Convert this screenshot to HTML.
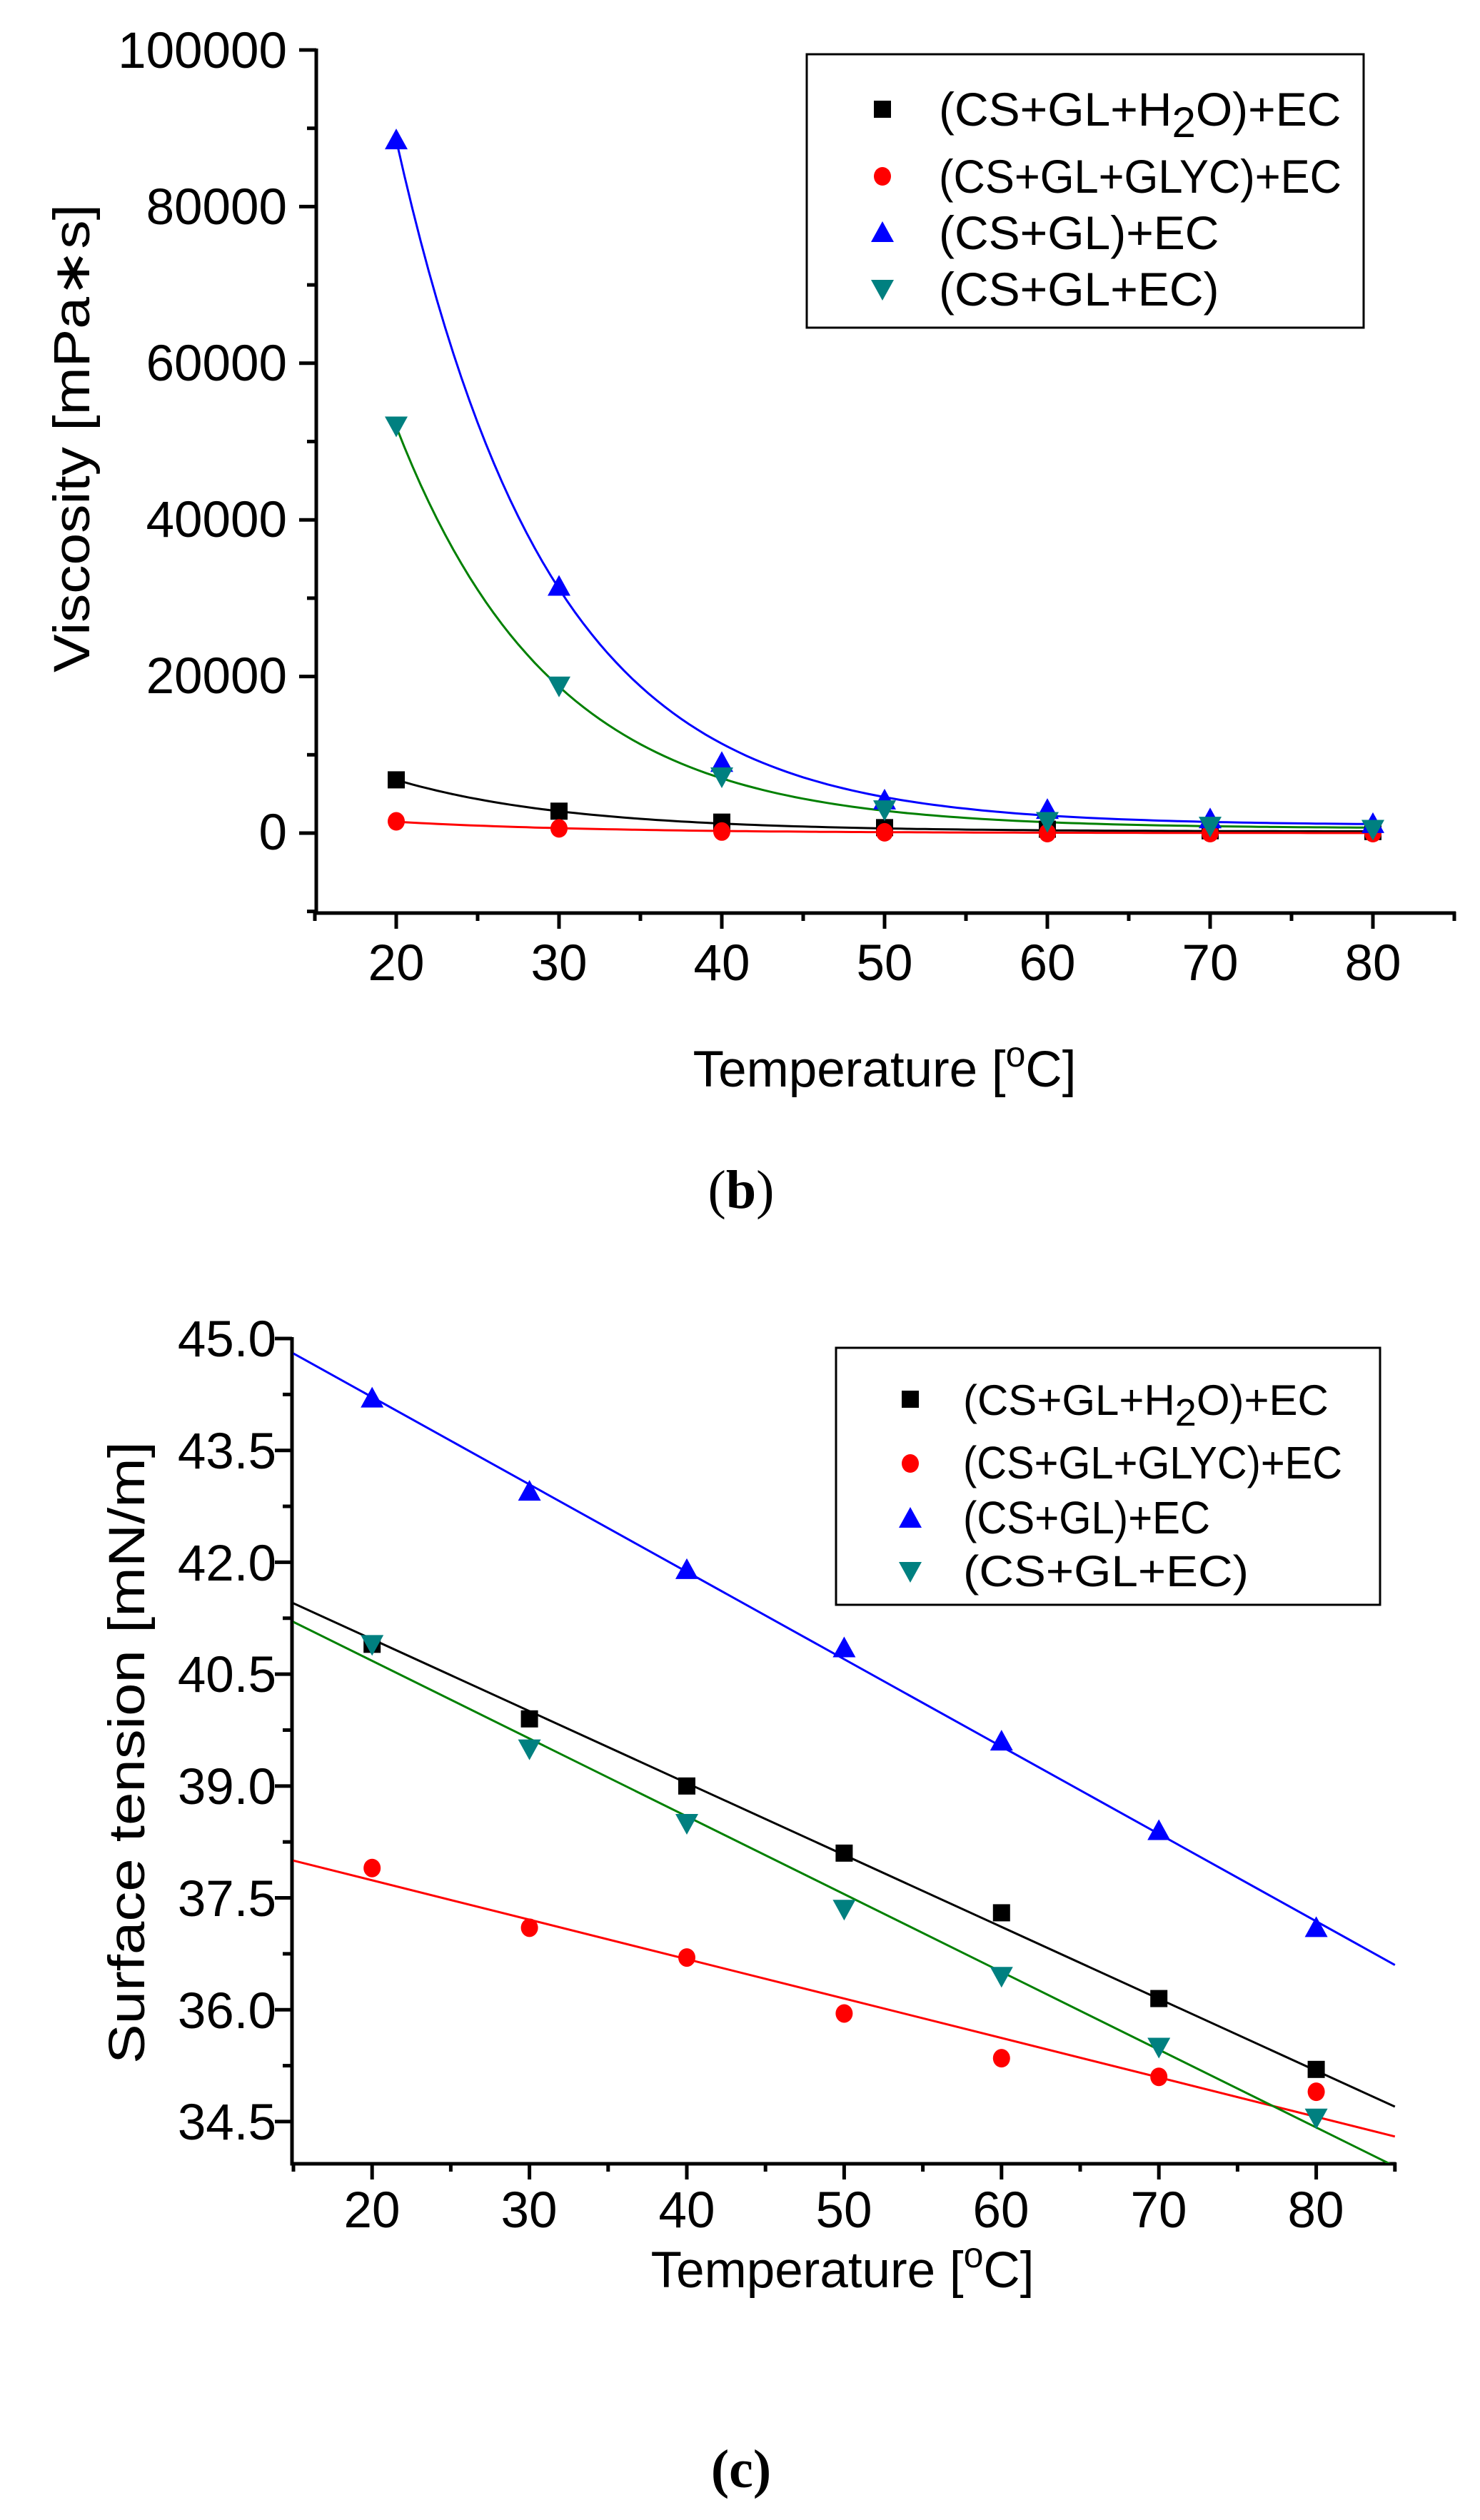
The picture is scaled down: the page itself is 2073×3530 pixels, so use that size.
<!DOCTYPE html>
<html><head><meta charset="utf-8"><style>
html,body{margin:0;padding:0;background:#fff;}
svg{display:block;}
text{font-family:"Liberation Sans",sans-serif;fill:#000;}
.t{font-size:71px;}
.s{font-family:"Liberation Serif",serif;}
</style></head><body>
<svg id="s" width="2073" height="3530" viewBox="0 0 2073 3530" xmlns="http://www.w3.org/2000/svg">
<rect width="2073" height="3530" fill="#fff"/>
<g id="g"></g>
<g class="t" text-anchor="end">
<text x="402" y="95">100000</text>
<text x="402" y="314">80000</text>
<text x="402" y="533">60000</text>
<text x="402" y="752">40000</text>
<text x="402" y="971">20000</text>
<text x="402" y="1190">0</text>
</g>
<g class="t" text-anchor="middle">
<text x="555" y="1373">20</text>
<text x="783" y="1373">30</text>
<text x="1011" y="1373">40</text>
<text x="1239" y="1373">50</text>
<text x="1467" y="1373">60</text>
<text x="1695" y="1373">70</text>
<text x="1923" y="1373">80</text>
</g>
<text class="t" x="1239" y="1522" text-anchor="middle">Temperature [<tspan dy="-28" font-size="50">o</tspan><tspan dy="28">C]</tspan></text>
<text class="t" transform="translate(125,614) rotate(-90)" text-anchor="middle" textLength="656" lengthAdjust="spacingAndGlyphs">Viscosity [mPa∗s]</text>
<text class="s" x="1038" y="1692" text-anchor="middle" font-size="76">(<tspan font-weight="bold">b</tspan>)</text>
<rect x="1130" y="76" width="780" height="383" fill="none" stroke="#000" stroke-width="3"/>
<g font-size="66">
<text x="1315" y="176">(CS+GL+H<tspan dy="16" font-size="60">2</tspan><tspan dy="-16">O)+EC</tspan></text>
<text x="1315" y="270" textLength="564" lengthAdjust="spacingAndGlyphs">(CS+GL+GLYC)+EC</text>
<text x="1315" y="349">(CS+GL)+EC</text>
<text x="1315" y="428">(CS+GL+EC)</text>
</g>
<g class="t" text-anchor="end">
<text x="387" y="1900">45.0</text>
<text x="387" y="2057">43.5</text>
<text x="387" y="2214">42.0</text>
<text x="387" y="2370">40.5</text>
<text x="387" y="2527">39.0</text>
<text x="387" y="2684">37.5</text>
<text x="387" y="2841">36.0</text>
<text x="387" y="2997">34.5</text>
</g>
<g class="t" text-anchor="middle">
<text x="521" y="3120">20</text>
<text x="741" y="3120">30</text>
<text x="962" y="3120">40</text>
<text x="1182" y="3120">50</text>
<text x="1402" y="3120">60</text>
<text x="1623" y="3120">70</text>
<text x="1843" y="3120">80</text>
</g>
<text class="t" x="1180" y="3204" text-anchor="middle">Temperature [<tspan dy="-28" font-size="50">o</tspan><tspan dy="28">C]</tspan></text>
<text class="t" transform="translate(202,2455) rotate(-90)" text-anchor="middle" textLength="872" lengthAdjust="spacingAndGlyphs">Surface tension [mN/m]</text>
<text class="s" x="1038" y="3484" text-anchor="middle" font-size="76" font-weight="bold">(c)</text>
<rect x="1171" y="1888" width="762" height="360" fill="none" stroke="#000" stroke-width="3"/>
<g font-size="64">
<text x="1349" y="1982" font-size="60">(CS+GL+H<tspan dy="15" font-size="54">2</tspan><tspan dy="-15">O)+EC</tspan></text>
<text x="1349" y="2071" textLength="531" lengthAdjust="spacingAndGlyphs">(CS+GL+GLYC)+EC</text>
<text x="1349" y="2148" textLength="346" lengthAdjust="spacingAndGlyphs">(CS+GL)+EC</text>
<text x="1349" y="2222" font-size="61" textLength="400" lengthAdjust="spacingAndGlyphs">(CS+GL+EC)</text>
</g>
</svg>
<script>
var g=document.getElementById('g'),NS='http://www.w3.org/2000/svg';
function el(t,a){var e=document.createElementNS(NS,t);for(var k in a)e.setAttribute(k,a[k]);g.appendChild(e);return e;}
function mk(type,x,y,c){
 if(type==0)el('rect',{x:x-12,y:y-12,width:24,height:24,fill:c});
 else if(type==1)el('ellipse',{cx:x,cy:y,rx:12,ry:13,fill:c});
 else if(type==2)el('polygon',{points:(x)+','+(y-16)+' '+(x-16)+','+(y+13)+' '+(x+16)+','+(y+13),fill:c});
 else el('polygon',{points:(x)+','+(y+16)+' '+(x-16)+','+(y-13)+' '+(x+16)+','+(y-13),fill:c});
}
var cols=['#000','#f00','#00f','#008080'];
var lcols=['#000','#f00','#00f','#008000'];
var Xb=function(v){return 441+(v-15)*22.8},Yb=function(v){return 1167-v*0.01097};
el('path',{d:'M443,68 V1279 H2039',fill:'none',stroke:'#000','stroke-width':5});
for(var v=-10000;v<=100000;v+=10000){var y=Yb(v);el('line',{x1:v%20000==0?419:430,x2:443,y1:y,y2:y,stroke:'#000','stroke-width':5});}
for(var v=15;v<=85;v+=5){var x=Xb(v);el('line',{x1:x,x2:x,y1:1277,y2:v%10==0?1301:1290,stroke:'#000','stroke-width':5});}
var fb=[[6600,10.7,200],[1450,12,0],[87500,9.4,1000],[51300,9.6,600]];
for(var s=0;s<4;s++){var d='';for(var t=20;t<=80;t+=0.5){var v=fb[s][0]*Math.exp(-(t-20)/fb[s][1])+fb[s][2];d+=(t==20?'M':'L')+Xb(t).toFixed(1)+','+Yb(v).toFixed(1);}
 el('path',{d:d,fill:'none',stroke:lcols[s],'stroke-width':3});}
var db=[[6800,2800,1400,700,500,300,200],[1500,600,200,100,0,0,0],[88500,31500,9000,4200,3000,1800,1200],[52000,18800,7200,3000,1500,900,500]];
for(var s=0;s<4;s++)for(var i=0;i<7;i++)mk(s,Xb(20+10*i),Yb(db[s][i]),cols[s]);
mk(0,1236,153,cols[0]);mk(1,1236,247,cols[1]);mk(2,1236,326,cols[2]);mk(3,1236,405,cols[3]);
var Xc=function(v){return 411+(v-15)*22.04},Yc=function(v){return 1875+(45-v)*104.47};
el('path',{d:'M409,1873 V3031 H1955',fill:'none',stroke:'#000','stroke-width':5});
for(var k=0;k<=15;k++){var v=45-0.75*k;var y=Yc(v);if(y>3030)break;el('line',{x1:k%2==0?385:396,x2:409,y1:y,y2:y,stroke:'#000','stroke-width':5});}
for(var v=15;v<=85;v+=5){var x=Xc(v);el('line',{x1:x,x2:x,y1:3029,y2:v%10==0?3053:3042,stroke:'#000','stroke-width':5});}
var lc=[[41.45,34.7],[38.0,34.3],[44.8,36.6],[41.2,33.9]];
el('clipPath',{id:'cp'}).appendChild(document.createElementNS(NS,'rect'));
var r=document.querySelector('#cp rect');r.setAttribute('x',409);r.setAttribute('y',1860);r.setAttribute('width',1560);r.setAttribute('height',1170);
for(var s=0;s<4;s++)el('line',{x1:Xc(15),y1:Yc(lc[s][0]),x2:Xc(85),y2:Yc(lc[s][1]),stroke:lcols[s],'stroke-width':3,'clip-path':'url(#cp)'});
var dc=[[40.9,39.9,39.0,38.1,37.3,36.15,35.2],[37.9,37.1,36.7,35.95,35.35,35.1,34.9],[44.2,42.95,41.9,40.85,39.6,38.4,37.1],[40.9,39.5,38.5,37.35,36.45,35.5,34.55]];
for(var s=0;s<4;s++)for(var i=0;i<7;i++)mk(s,Xc(20+10*i),Yc(dc[s][i]),cols[s]);
mk(0,1275,1960,cols[0]);mk(1,1275,2050,cols[1]);mk(2,1275,2127,cols[2]);mk(3,1275,2201,cols[3]);
</script>
</body></html>
